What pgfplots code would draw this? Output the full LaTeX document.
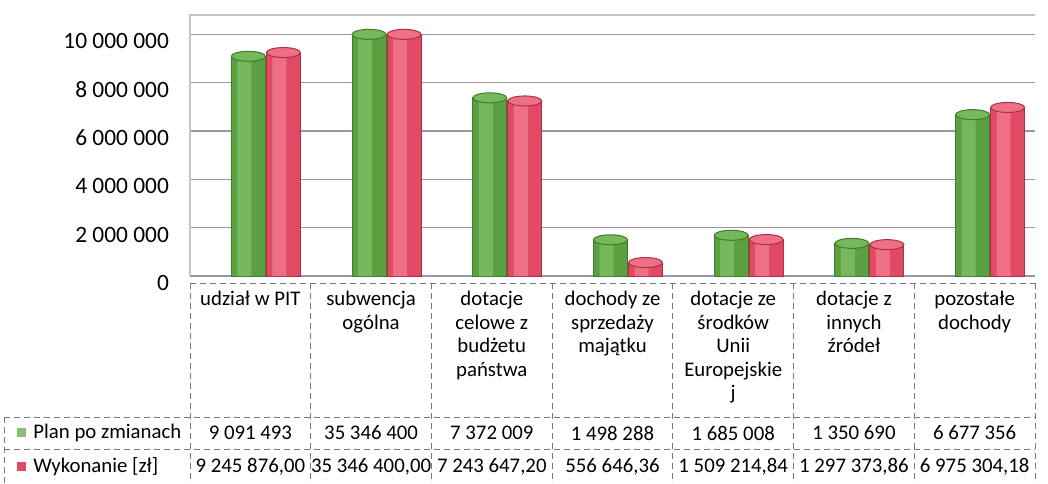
\documentclass[border=0pt]{standalone}
\usepackage{pgfplots}
\usepackage{pgfplotstable}
\pgfplotsset{compat=1.18}
\usepackage{fontspec}
\setmainfont{Carlito}

\definecolor{gdark}{HTML}{3E7D2C}
\definecolor{gmid}{HTML}{5AA040}
\definecolor{ghigh}{HTML}{78B85C}
\definecolor{rdark}{HTML}{B02E46}
\definecolor{rmid}{HTML}{E04A64}
\definecolor{rhigh}{HTML}{EE7084}
\definecolor{gridc}{RGB}{150,150,172}
\definecolor{tblc}{RGB}{120,120,120}

\pgfdeclareplotmark{cyltop}{%
  \pgfpathellipse{\pgfpointorigin}{\pgfqpoint{8.5pt}{0pt}}{\pgfqpoint{0pt}{2.5pt}}%
  \pgfusepathqfillstroke}

\pgfplotstableread{
x plan wyk
0 9091493 9245876.00
1 35346400 35346400.00
2 7372009 7243647.20
3 1498288 556646.36
4 1685008 1509214.84
5 1350690 1297373.86
6 6677356 6975304.18
}\datatable

\begin{document}
\begin{tikzpicture}
\begin{axis}[
  at={(95pt,-138pt)}, anchor=south west,
  scale only axis, width=422.5pt, height=130.5pt,
  xmin=-0.5, xmax=6.5, ymin=0, ymax=10800000,
  restrict y to domain*=0:10000000,
  scaled y ticks=false,
  xtick=\empty,
  ytick={0,2000000,4000000,6000000,8000000,10000000},
  yticklabels={0,2 000 000,4 000 000,6 000 000,8 000 000,10 000 000},
  yticklabel style={font=\fontsize{11.7}{14}\selectfont, yshift=-3.5pt, xshift=-7pt},
  major tick length=0pt,
  ymajorgrids, grid style={gridc, line width=0.6pt},
  axis line style={draw=none},
  clip=false,
]
% frame
\draw[gray!45, line width=0.6pt] (rel axis cs:0,0) -- (rel axis cs:0,1) -- (rel axis cs:1,1);
% Plan po zmianach (green cylinders)
\addplot[ybar, bar width=17pt, bar shift=-1pt, fill=gmid, draw=gdark, line width=0.5pt] table[x=x,y=plan] {\datatable};
\addplot[ybar, bar width=7pt, bar shift=-3pt, fill=ghigh, draw=none] table[x=x,y=plan] {\datatable};
\addplot[only marks, mark=cyltop, xshift=-1pt, mark options={fill=ghigh, draw=gdark, line width=0.5pt}] table[x=x,y=plan] {\datatable};
% Wykonanie (red cylinders)
\addplot[ybar, bar width=17pt, bar shift=16.5pt, fill=rmid, draw=rdark, line width=0.5pt] table[x=x,y=wyk] {\datatable};
\addplot[ybar, bar width=7pt, bar shift=14.5pt, fill=rhigh, draw=none] table[x=x,y=wyk] {\datatable};
\addplot[only marks, mark=cyltop, xshift=16.5pt, mark options={fill=rhigh, draw=rdark, line width=0.5pt}] table[x=x,y=wyk] {\datatable};
\end{axis}

\begin{scope}[x=0.5pt, y=-0.5pt]
\path (0,0) rectangle (1048,483);
\tikzset{tbl/.style={tblc, densely dashed, line width=0.5pt}}
\foreach \k in {0,...,7} \draw[tbl] ({190+\k*120.714},283) -- ({190+\k*120.714},483);
\draw[tbl] (190,283) -- (1035,283);
\draw[tbl] (4,417) -- (1035,417);
\draw[tbl] (4,449) -- (1035,449);
\draw[tbl] (4,417) -- (4,483);
\tikzset{cat/.style={anchor=north, align=center, inner sep=0pt, font=\fontsize{10.4}{11.75}\selectfont}}
\node[cat] at ({190+0.5*120.714},291) {udział w PIT};
\node[cat] at ({190+1.5*120.714},291) {subwencja\\ogólna};
\node[cat] at ({190+2.5*120.714},291) {dotacje\\celowe z\\budżetu\\państwa};
\node[cat] at ({190+3.5*120.714},291) {dochody ze\\sprzedaży\\majątku};
\node[cat] at ({190+4.5*120.714},291) {dotacje ze\\środków\\Unii\\Europejskie\\j};
\node[cat] at ({190+5.5*120.714},291) {dotacje z\\innych\\źródeł};
\node[cat] at ({190+6.5*120.714},291) {pozostałe\\dochody};
\tikzset{val/.style={anchor=center, inner sep=0pt, font=\fontsize{10.4}{11.75}\selectfont}}
\foreach \v [count=\i from 0] in {9 091 493,35 346 400,7 372 009,1 498 288,1 685 008,1 350 690,6 677 356}
  \node[val] at ({190+(\i+0.5)*120.714},433) {\v};
\foreach \v [count=\i from 0] in {9 245 876{,}00,35 346 400{,}00,7 243 647{,}20,556 646{,}36,1 509 214{,}84,1 297 373{,}86,6 975 304{,}18}
  \node[val] at ({190+(\i+0.5)*120.714},467) {\v};
\fill[gmid!70!white] (17,428) rectangle (26,437);
\fill[rmid] (17,462) rectangle (26,471);
\node[anchor=west, inner sep=0pt, font=\fontsize{10.4}{11.75}\selectfont] at (33,433) {Plan po zmianach};
\node[anchor=west, inner sep=0pt, font=\fontsize{10.4}{11.75}\selectfont] at (33,467) {Wykonanie [zł]};
\end{scope}
\end{tikzpicture}
\end{document}
